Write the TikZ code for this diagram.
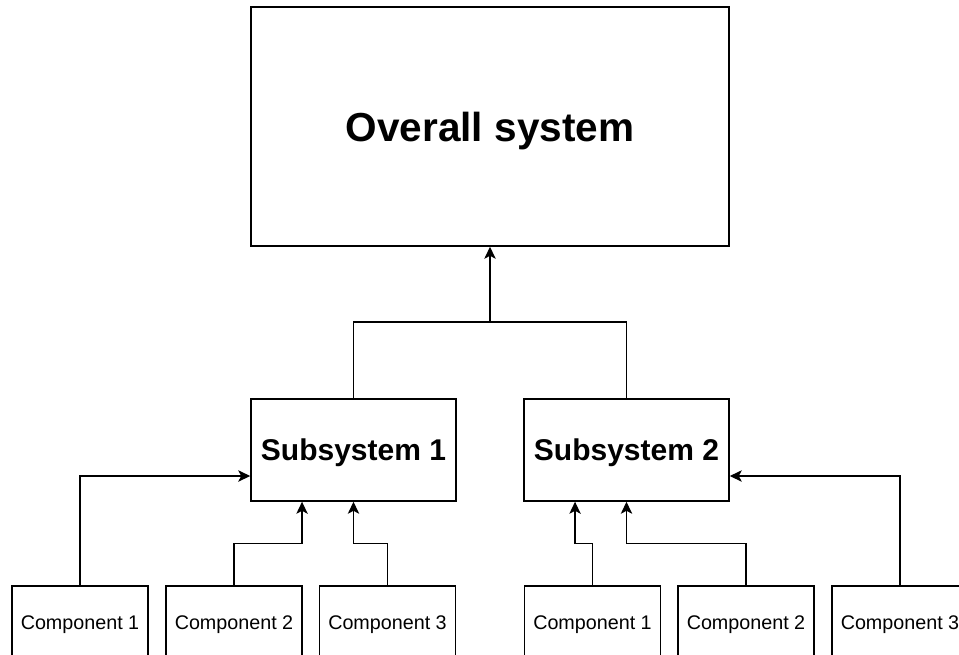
\documentclass[tikz,border=0pt]{standalone}
\usepackage{fontspec}
\setmainfont{Liberation Sans}
\usetikzlibrary{arrows.meta}
\begin{document}
\begin{tikzpicture}[x=0.75pt,y=-0.75pt,
 box/.style={draw=black, line width=1.1pt, inner sep=0pt, fill=white, text depth=0pt},
 big/.style={box, minimum width=358.5pt, minimum height=179.25pt, text height=21.8pt, font=\fontsize{30.4}{36}\selectfont\bfseries},
 sub/.style={box, minimum width=153.75pt, minimum height=76.5pt, text height=16.1pt, font=\fontsize{22.5}{27}\selectfont\bfseries},
 comp/.style={box, minimum width=102pt, minimum height=54pt, text height=10.6pt, font=\fontsize{14.8}{18}\selectfont},
 conn/.style={line width=1.1pt, -{Stealth[length=9pt,width=8.5pt,inset=2.2pt]}},
 wire/.style={line width=1.1pt}]
\useasboundingbox (0,0) rectangle (959,654);
\clip (0,0) rectangle (959,654);
\fill[white] (0,0) rectangle (959,654);

\node[big] (overall) at (490,126.5) {Overall system};
\node[sub] (sub1) at (353.5,450) {Subsystem 1};
\node[sub] (sub2) at (626.5,450) {Subsystem 2};

\node[comp] (c1) at (80,622) {Component 1};
\node[comp] (c2) at (234,622) {Component 2};
\node[comp] (c3) at (387.5,622) {Component 3};
\node[comp] (d1) at (592.5,622) {Component 1};
\node[comp] (d2) at (746,622) {Component 2};
\node[comp] (d3) at (900,622) {Component 3};

\coordinate (j) at (490,322);
\draw[wire] (sub1.north) |- (j) -| (sub2.north);
\draw[conn] (j) -- (overall.south);

\draw[conn] (c1.north) |- ([yshift=-19.5pt]sub1.west);
\draw[conn] (c2.north) -- ++(0,-42) -| ([xshift=-38.6pt]sub1.south);
\draw[conn] (c3.north) -- ++(0,-42) -| (sub1.south);
\draw[conn] (d1.north) -- ++(0,-42) -| ([xshift=-38.6pt]sub2.south);
\draw[conn] (d2.north) -- ++(0,-42) -| (sub2.south);
\draw[conn] (d3.north) |- ([yshift=-19.5pt]sub2.east);
\end{tikzpicture}
\end{document}
